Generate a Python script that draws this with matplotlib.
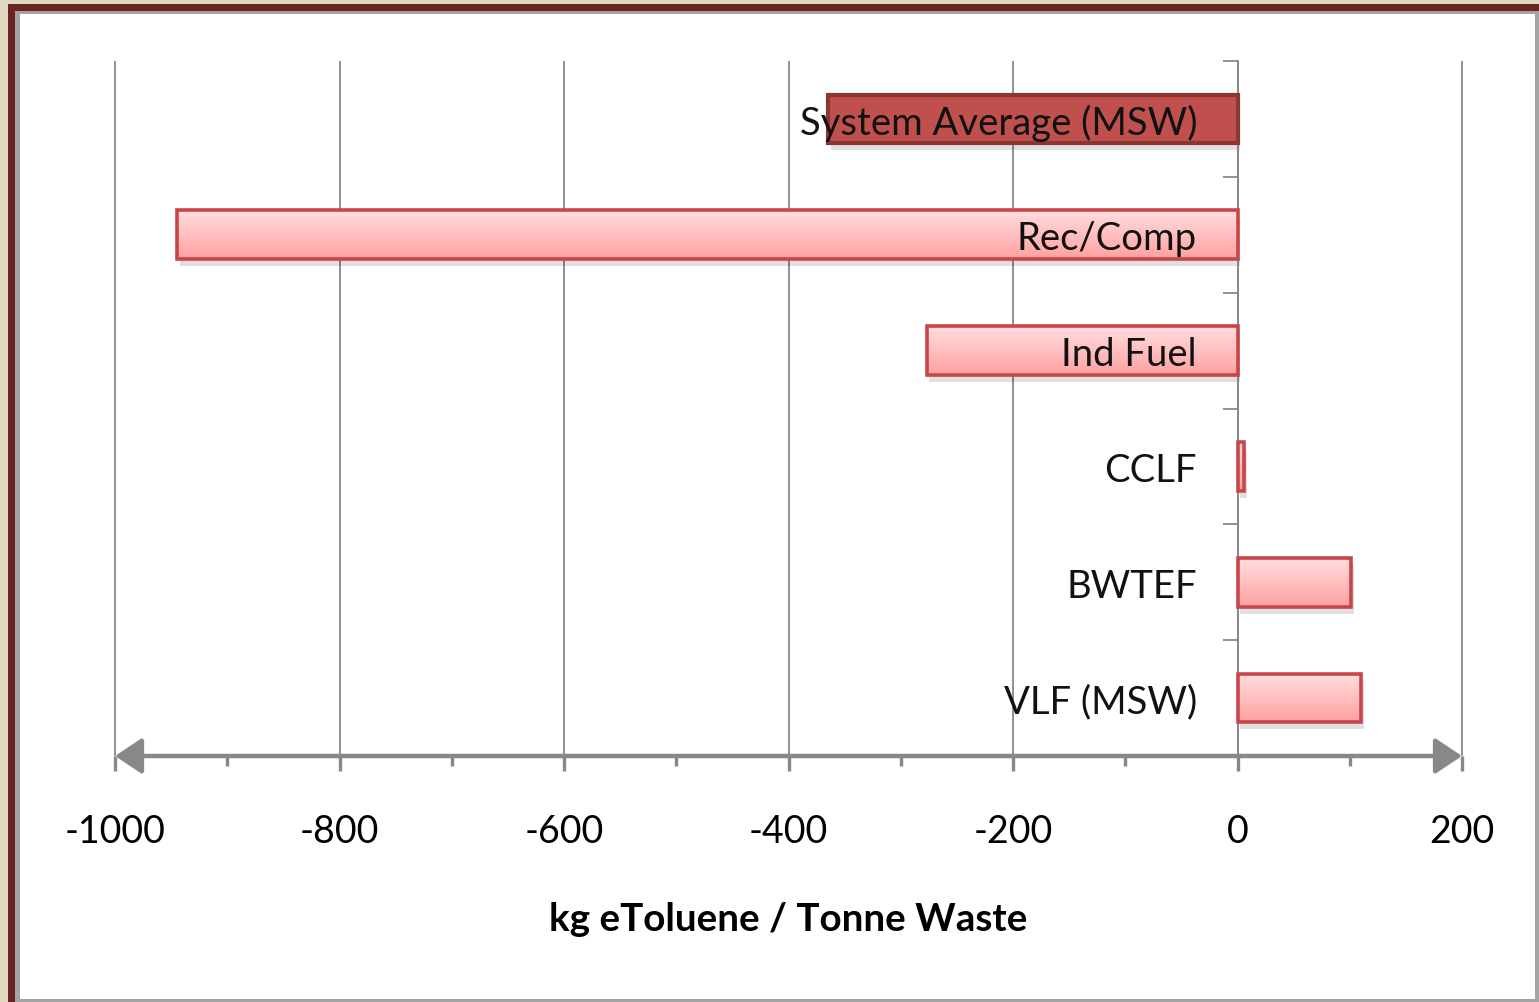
import matplotlib.pyplot as plt
import matplotlib.transforms as mtransforms
from matplotlib.patches import Rectangle
import numpy as np

# Data
categories = ["System Average (MSW)", "Rec/Comp", "Ind Fuel", "CCLF", "BWTEF", "VLF (MSW)"]
values = [-365, -945, -277, 6, 101, 110]
xticks = [-1000, -800, -600, -400, -200, 0, 200]

W, H = 1539, 1003
plt.rcParams['font.family'] = ['Lato', 'DejaVu Sans']

fig = plt.figure(figsize=(W / 100, H / 100), dpi=100)
fig.patch.set_facecolor('#ded8c1')

# frame: dark red border, thin gray line, white panel
fig.patches.append(Rectangle((8 / W, 0), 1, 1 - 5 / H, transform=fig.transFigure,
                             facecolor='#6b2424', edgecolor='none', zorder=-3))
fig.patches.append(Rectangle((15 / W, 0), 1, 1 - 12 / H, transform=fig.transFigure,
                             facecolor='#a3a3a3', edgecolor='none', zorder=-2))
fig.patches.append(Rectangle((20 / W, 3 / H), (1535 - 20) / W, (1000 - 15) / H,
                             transform=fig.transFigure, facecolor='white',
                             edgecolor='none', zorder=-1))

ax = fig.add_axes([115 / W, 1 - 757 / H, (1462 - 115) / W, (757 - 62) / H])
ax.set_facecolor('none')

y = np.arange(len(categories))
gray = '#888888'

# vertical gridlines
ax.vlines(xticks, -0.5, len(categories) - 0.5, colors=gray, lw=1.3, zorder=0, clip_on=False)

# category labels
for yi, lab in zip(y, categories):
    ax.text(-36, yi + 0.03, lab, ha='right', va='center', fontsize=27.5,
            color='#111111', zorder=6)

# shadows
shadow_off = mtransforms.ScaledTranslation(2 / 72, -5 / 72, fig.dpi_scale_trans)
sh = ax.barh(y, values, height=0.42, color='black', alpha=0.12, zorder=1)
for p in sh:
    p.set_transform(ax.transData + shadow_off)

# bars
bars = ax.barh(y, values, height=0.42, zorder=3)
grad = np.linspace(0, 1, 100).reshape(-1, 1)
top_c = np.array([1.0, 0.87, 0.87])
bot_c = np.array([1.0, 0.63, 0.63])
for i, b in enumerate(bars):
    if i == 0:
        b.set_facecolor('#c0504d')
        b.set_edgecolor('#8c3634')
        b.set_linewidth(3)
        b.set_zorder(4)
    else:
        b.set_facecolor('none')
        b.set_edgecolor('#c8464a')
        b.set_linewidth(2.6)
        b.set_zorder(4)
        x0, y0 = b.get_x(), b.get_y()
        x1, y1 = x0 + b.get_width(), y0 + b.get_height()
        img = top_c + grad[:, :, None] * (bot_c - top_c)
        im = ax.imshow(img, extent=[min(x0, x1), max(x0, x1), y1, y0],
                       aspect='auto', zorder=3, interpolation='bilinear')
        im.set_clip_path(b)

ax.set_xlim(-1000, 200)
ax.set_ylim(len(categories) - 0.5, -0.5)

# axes styling
for s in ['top', 'right', 'bottom']:
    ax.spines[s].set_visible(False)
ax.spines['left'].set_position(('data', 0))
ax.spines['left'].set_color(gray)
ax.spines['left'].set_linewidth(1.3)
ax.spines['left'].set_zorder(2)

ax.set_yticks(np.arange(-0.5, len(categories), 1))
ax.set_yticklabels([])
ax.tick_params(axis='y', direction='out', length=11, width=1.3, color=gray)

ax.set_xticks(xticks)
ax.set_xticklabels([str(t) for t in xticks], fontsize=27)
ax.set_xticks(np.arange(-900, 200, 200), minor=True)
ax.tick_params(axis='x', which='major', direction='out', length=11, width=2.4,
               color=gray, pad=30)
ax.tick_params(axis='x', which='minor', direction='out', length=7, width=2.4, color=gray)

# bottom axis with arrows at both ends
ax.annotate('', xy=(-1000, len(categories) - 0.5), xytext=(200, len(categories) - 0.5),
            xycoords='data', annotation_clip=False,
            arrowprops=dict(arrowstyle='<|-|>,head_length=0.75,head_width=0.5',
                            color=gray, lw=3.2, shrinkA=0, shrinkB=0,
                            mutation_scale=22))

fig.text(788 / W, 1 - 920 / H, "kg eToluene / Tonne Waste", ha='center', va='center',
         fontsize=27.8, fontweight='bold')

fig.savefig('out.png', dpi=100, facecolor=fig.get_facecolor())
